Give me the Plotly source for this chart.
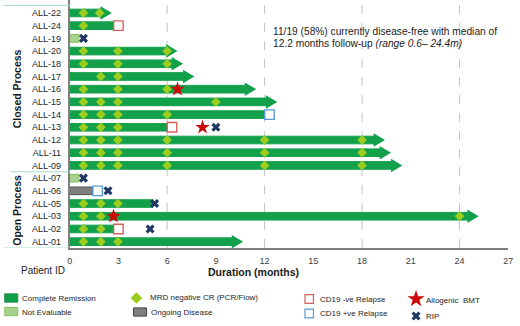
import plotly.graph_objects as go

# ---------------- data ----------------
patients = ["ALL-22", "ALL-24", "ALL-19", "ALL-20", "ALL-18", "ALL-17", "ALL-16",
            "ALL-15", "ALL-14", "ALL-13", "ALL-12", "ALL-11", "ALL-09",
            "ALL-07", "ALL-06", "ALL-05", "ALL-03", "ALL-02", "ALL-01"]
group = ["Closed Process"] * 13 + ["Open Process"] * 6
bar_end = [1.92, 2.7, 0.57, 5.96, 6.3, 7.0, 10.8, 12.1, 12.0, 5.96, 18.73, 19.1, 19.8,
           0.57, 1.4, 5.1, 24.5, 2.7, 10.0]
status = ["CR", "CR", "NE", "CR", "CR", "CR", "CR", "CR", "CR", "CR", "CR", "CR", "CR",
          "NE", "OD", "CR", "CR", "CR", "CR"]
ongoing = [1, 0, 0, 1, 1, 1, 1, 1, 0, 0, 1, 1, 1, 0, 0, 0, 1, 0, 1]
mrd_negative = [
    [0.85, 1.85], [0.85], [], [0.85, 2.97, 6.0], [0.85, 2.97, 6.0], [1.92, 2.97],
    [0.85, 2.97, 6.0], [0.85, 1.92, 2.97, 9.0], [0.85, 1.92, 2.97, 6.0], [0.85, 1.92, 2.97],
    [0.85, 1.92, 2.97, 6.0, 12.0, 18.0], [0.85, 1.92, 2.97, 6.0, 12.0, 18.0],
    [0.85, 1.92, 2.97, 6.0, 12.0, 18.0],
    [], [], [0.85, 1.92, 2.97], [0.85, 1.92, 24.0], [0.85, 1.92], [0.85, 1.92, 2.97]]
relapse_neg_patients = ["ALL-24", "ALL-13", "ALL-02"]
relapse_neg_month = [3.0, 6.3, 3.0]
relapse_pos_patients = ["ALL-14", "ALL-06"]
relapse_pos_month = [12.3, 1.72]
bmt_patients = ["ALL-16", "ALL-13", "ALL-03"]
bmt_month = [6.64, 8.18, 2.7]
rip_patients = ["ALL-19", "ALL-13", "ALL-07", "ALL-06", "ALL-05", "ALL-02"]
rip_month = [0.85, 9.0, 0.85, 2.36, 5.23, 4.95]
x_ticks = [0, 3, 6, 9, 12, 15, 18, 21, 24, 27]
grid_months = [6, 12, 18, 24]
info_line1 = "11/19 (58%) currently disease-free with median of"
info_line2 = "12.2 months follow-up <i>(range 0.6– 24.4m)</i>"

# ---------------- style ----------------
FONT = "Arial, 'Liberation Sans', sans-serif"
GREEN = "#13a04b"
LIGHT = "#a9d18e"
LIGHT_LINE = "#7fbf5f"
GREY = "#7f7f7f"
DIAMOND = "#9acd1e"
RED_SQ = "#d9605a"
BLUE_SQ = "#5b9bd5"
STAR = "#cc0a0a"
XCOL = "#1f3864"
W, H = 520, 326
X0, X1, YBOT = 67.7, 513.2, 248.0
HEAD_LEN = 0.68
HEAD_HALF = 0.53
BAR_W = 0.6

row = {p: i for i, p in enumerate(patients)}
fill = {"CR": GREEN, "NE": LIGHT, "OD": GREY}
edge = {"CR": GREEN, "NE": LIGHT_LINE, "OD": "#505050"}

fig = go.Figure()

fig.add_trace(go.Bar(
    orientation="h", y=list(range(len(patients))), x=bar_end, base=0, width=BAR_W,
    marker=dict(color=[fill[s] for s in status],
                line=dict(color=[edge[s] for s in status], width=1)),
    hoverinfo="skip", showlegend=False))

# arrow heads for ongoing remission
hx, hy = [], []
for i, (e, o) in enumerate(zip(bar_end, ongoing)):
    if o:
        hx += [e - 0.02, e + HEAD_LEN, e - 0.02, e - 0.02, None]
        hy += [i - HEAD_HALF, i, i + HEAD_HALF, i - HEAD_HALF, None]
fig.add_trace(go.Scatter(x=hx, y=hy, fill="toself", fillcolor=GREEN, mode="lines",
                         line=dict(width=0, color=GREEN), hoverinfo="skip", showlegend=False))

dx, dy = [], []
for i, ms in enumerate(mrd_negative):
    for m in ms:
        dx.append(m)
        dy.append(i)
fig.add_trace(go.Scatter(x=dx, y=dy, mode="markers",
                         marker=dict(symbol="diamond", size=7.5, color=DIAMOND, line=dict(width=0)),
                         hoverinfo="skip", showlegend=False))

fig.add_trace(go.Scatter(x=relapse_neg_month, y=[row[p] for p in relapse_neg_patients], mode="markers",
                         marker=dict(symbol="square", size=9.5, color="white",
                                     line=dict(color=RED_SQ, width=1.4)),
                         hoverinfo="skip", showlegend=False))
fig.add_trace(go.Scatter(x=relapse_pos_month, y=[row[p] for p in relapse_pos_patients], mode="markers",
                         marker=dict(symbol="square", size=9.5, color="white",
                                     line=dict(color=BLUE_SQ, width=1.4)),
                         hoverinfo="skip", showlegend=False))
fig.add_trace(go.Scatter(x=bmt_month, y=[row[p] for p in bmt_patients], mode="markers",
                         marker=dict(symbol="star", size=11, color=STAR, line=dict(width=0)),
                         hoverinfo="skip", showlegend=False))
fig.add_trace(go.Scatter(x=rip_month, y=[row[p] for p in rip_patients], mode="markers",
                         marker=dict(symbol="x", size=8, color=XCOL, line=dict(width=0)),
                         hoverinfo="skip", showlegend=False))

shapes = []
for g in grid_months:
    shapes.append(dict(type="line", xref="x", yref="y domain", x0=g, x1=g, y0=0, y1=1,
                       line=dict(color="#c4c4c4", width=1, dash="dash"), layer="below"))

# group separators and labels
groups = []
for g in group:
    if g not in groups:
        groups.append(g)
bounds = []
for g in groups:
    idx = [i for i, gg in enumerate(group) if gg == g]
    bounds.append((g, idx[0] - 0.5, idx[-1] + 0.5))
sep_rows = [bounds[0][1] - 0.1] + [b[2] for b in bounds]
for k, r in enumerate(sep_rows):
    shapes.append(dict(type="line", xref="paper", yref="y",
                       x0=0 if k in (0, len(sep_rows) - 1) else 0.015, x1=X0 / W, y0=r, y1=r,
                       line=dict(color="#a6dcc6", width=1)))

annotations = []
for g, a, b in bounds:
    top = a - 0.1 if g == groups[0] else a
    annotations.append(dict(text="<b>%s</b>" % g, xref="paper", yref="y", x=14 / W, y=(top + b) / 2,
                            textangle=-90, showarrow=False, xanchor="center", yanchor="middle",
                            font=dict(family=FONT, size=10.5, color="#1a1a1a")))

annotations.append(dict(text="Patient ID", xref="paper", yref="paper", x=16 / W, y=1 - 270 / H,
                        xanchor="left", yanchor="middle", showarrow=False,
                        font=dict(family=FONT, size=10, color="#222222")))
annotations.append(dict(text="<b>Duration (months)</b>", xref="paper", yref="paper", x=254 / W,
                        y=1 - 271.5 / H, xanchor="center", yanchor="middle", showarrow=False,
                        font=dict(family=FONT, size=10.5, color="#1a1a1a")))
for t, yy in ((info_line1, 31.7), (info_line2, 43.3)):
    annotations.append(dict(text=t, xref="paper", yref="paper", x=272.5 / W, y=1 - yy / H,
                            xanchor="left", yanchor="middle", showarrow=False,
                            font=dict(family=FONT, size=10.2, color="#222222")))

# ---------------- legend (manual, on an overlay axis in pixel units) ----------------
legend_items = [
    ("Complete Remission", "rect", GREEN, "#0e8a40", 8.4, 298, 17.3, 298.5),
    ("Not Evaluable", "rect", LIGHT, LIGHT_LINE, 8.4, 311.5, 17.3, 312),
    ("MRD negative CR (PCR/Flow)", "diamond", DIAMOND, DIAMOND, 135.5, 298, 147, 297.5),
    ("Ongoing Disease", "rect", GREY, "#404040", 139.2, 312, 148.3, 312.5),
    ("CD19 -ve Relapse", "square", "white", RED_SQ, 311, 299, 320, 299),
    ("CD19 +ve Relapse", "square", "white", BLUE_SQ, 311, 313.5, 320, 313.5),
    ("Allogenic  BMT", "star", STAR, STAR, 419.5, 299, 427.7, 300),
    ("RIP", "x", XCOL, XCOL, 419.5, 316, 427.7, 316),
]
for label, kind, fc, lc, sx, sy, tx, ty in legend_items:
    if kind == "rect":
        shapes.append(dict(type="rect", xref="x2", yref="y2", x0=sx - 6.6, x1=sx + 6.6,
                           y0=sy - 4.1, y1=sy + 4.1, fillcolor=fc, line=dict(color=lc, width=1)))
    elif kind == "square":
        shapes.append(dict(type="rect", xref="x2", yref="y2", x0=sx - 4.3, x1=sx + 4.3,
                           y0=sy - 4.3, y1=sy + 4.3, fillcolor=fc, line=dict(color=lc, width=1.2)))
    else:
        size = {"diamond": 9, "star": 13, "x": 8}[kind]
        fig.add_trace(go.Scatter(x=[sx], y=[sy], xaxis="x2", yaxis="y2", mode="markers",
                                 marker=dict(symbol=kind, size=size, color=fc, line=dict(width=0)),
                                 hoverinfo="skip", showlegend=False))
    annotations.append(dict(text=label, xref="x2", yref="y2", x=tx, y=ty, xanchor="left",
                            yanchor="middle", showarrow=False,
                            font=dict(family=FONT, size=8, color="#262626")))

n = len(patients)
fig.update_layout(
    width=W, height=H, margin=dict(l=0, r=0, t=0, b=0, pad=0),
    paper_bgcolor="white", plot_bgcolor="rgba(0,0,0,0)", hovermode=False, showlegend=False,
    barmode="overlay",
    font=dict(family=FONT),
    xaxis=dict(domain=[X0 / W, X1 / W], range=[0, 27], tickvals=x_ticks, showgrid=False,
               zeroline=False, showline=True, linecolor="#7f7f7f", linewidth=1.5,
               ticks="outside", ticklen=3, tickcolor="rgba(0,0,0,0)", anchor="y",
               tickfont=dict(family=FONT, size=9, color="#404040"), fixedrange=True),
    yaxis=dict(domain=[1 - YBOT / H, 1], range=[n - 0.5, -1.02], tickvals=list(range(n)),
               ticktext=patients, showgrid=False, zeroline=False, showline=True, anchor="x",
               linecolor="#7f7f7f", linewidth=1.5, ticks="outside", ticklen=5,
               tickcolor="rgba(0,0,0,0)", tickfont=dict(family=FONT, size=9, color="#262626"),
               fixedrange=True),
    xaxis2=dict(domain=[0, 1], range=[0, W], visible=False, anchor="y2", fixedrange=True),
    yaxis2=dict(domain=[0, 1], range=[H, 0], visible=False, anchor="x2", fixedrange=True),
    shapes=shapes, annotations=annotations,
)

fig.write_html("out.html", config={"displayModeBar": False},
               post_script="document.body.style.margin='0';document.body.style.overflow='hidden';")
